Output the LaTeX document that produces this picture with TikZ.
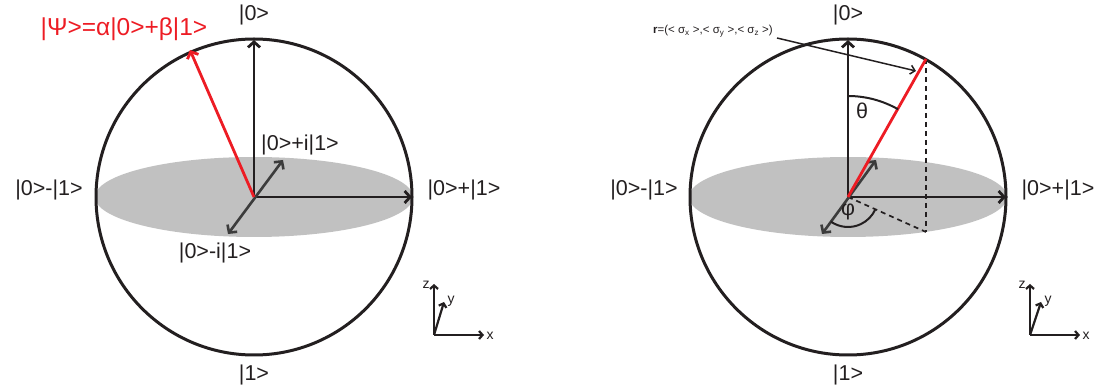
\documentclass[tikz,border=0pt]{standalone}
\usepackage{fontspec}
\setmainfont{Liberation Sans}
\usetikzlibrary{arrows.meta}
\definecolor{disk}{RGB}{193,193,193}
\definecolor{dgray}{RGB}{60,60,60}
\definecolor{qred}{RGB}{237,28,36}
\definecolor{ink}{RGB}{35,31,32}
\begin{document}
\begin{tikzpicture}[x=1pt,y=1pt,
  lbl/.style={font=\fontsize{21.5}{24}\selectfont, inner sep=0pt, text=ink},
  ax/.style={line width=2.8pt, draw=ink, -{Straight Barb[length=5.5pt,width=12pt]}},
  redax/.style={ax, draw=qred},
  dbl/.style={line width=2.6pt, draw=dgray, {Straight Barb[length=5.5pt,width=12pt]}-{Straight Barb[length=5.5pt,width=12pt]}},
  small/.style={line width=2.2pt, draw=ink, -{Straight Barb[length=3.5pt,width=8pt]}},
  tinylbl/.style={font=\fontsize{14}{16}\selectfont, inner sep=0pt, text=ink},
  sphere/.style={line width=3pt, draw=ink},
  dsh/.style={line width=1.7pt, draw=ink, dash pattern=on 5pt off 4pt}]
\useasboundingbox (0,0) rectangle (1109,391);

% ---------------- left sphere ----------------
\coordinate (L) at (254,194);
\fill[disk] (L) ellipse [x radius=159pt, y radius=40pt];
\draw[sphere] (L) circle [radius=158pt];
\coordinate (Ltop) at (254,351);
\coordinate (Lright) at (412,194);
\coordinate (Lpsi) at (190,341);
\coordinate (Lpi) at (283,231);
\coordinate (Lmi) at (228,157);
\draw[ax] (L) -- (Ltop);
\draw[ax] (L) -- (Lright);
\draw[dbl] (Lmi) -- (Lpi);
\draw[redax] (L) -- (Lpsi);

\node[lbl] (l0) at (254,376) {|0>};
\node[lbl] (l1) at (254,16) {|1>};
\node[lbl] (lm) at (49,201) {|0>-|1>};
\node[lbl] (lp) at (464,201) {|0>+|1>};
\node[lbl] (lpi) at (300,246) {|0>+i|1>};
\node[lbl] (lmi) at (215,138) {|0>-i|1>};
\node[lbl, text=qred, font=\fontsize{24.5}{28}\selectfont] (psi) at (124,362) {|Ψ>=α|0>+β|1>};

% axes icon left
\coordinate (La) at (434,56);
\coordinate (Laz) at (434,107);
\coordinate (Lax) at (484,56);
\coordinate (Lay) at (444,89);
\draw[small] (La) -- (Laz);
\draw[small] (La) -- (Lax);
\draw[small] (La) -- (Lay);
\node[tinylbl] (Lzl) at (426,106) {z};
\node[tinylbl] (Lyl) at (451,90) {y};
\node[tinylbl] (Lxl) at (490,55) {x};

% ---------------- right sphere ----------------
\coordinate (R) at (848,194);
\fill[disk] (R) ellipse [x radius=159pt, y radius=40pt];
\draw[sphere] (R) circle [radius=158pt];
\coordinate (Rtop) at (848,351);
\coordinate (Rright) at (1006,194);
\coordinate (Rr) at (926,332);
\coordinate (Rproj) at (926,159);
\coordinate (Rpi) at (876,231);
\coordinate (Rmi) at (822,157);
\draw[dsh] (Rr) -- (Rproj);
\draw[dsh] (R) -- (Rproj);
\draw[ax] (R) -- (Rtop);
\draw[ax] (R) -- (Rright);
\draw[dbl] (Rmi) -- (Rpi);
\draw[line width=2.8pt, draw=qred] (R) -- (Rr);
\draw[line width=2pt, draw=ink] ([shift={(90:101pt)}]R) arc [start angle=90, end angle=60.3, radius=101pt];
\draw[line width=2pt, draw=ink] ([shift={(235:30pt)}]R) arc [start angle=235, end angle=336, radius=30pt];
\node[lbl] (th) at (862,280) {θ};
\node[lbl] (ph) at (848,179) {φ};

\node[lbl] (r0) at (848,376) {|0>};
\node[lbl] (r1) at (848,16) {|1>};
\node[lbl] (rm) at (644,201) {|0>-|1>};
\node[lbl] (rp) at (1058,201) {|0>+|1>};

\node[inner sep=0pt, text=ink, font=\fontsize{11.5}{13}\selectfont] (rv) at (713,360)
  {\textbf{r}=(< σ\textsubscript{x} >,< σ\textsubscript{y} >,< σ\textsubscript{z} >)};
\coordinate (rvs) at (777,353);
\coordinate (rve) at (916,320);
\draw[line width=1.5pt, draw=ink, -{Straight Barb[length=4.5pt,width=9pt]}] (rvs) -- (rve);

% axes icon right
\coordinate (Ra) at (1030,56);
\coordinate (Raz) at (1030,107);
\coordinate (Rax) at (1080,56);
\coordinate (Ray) at (1041,89);
\draw[small] (Ra) -- (Raz);
\draw[small] (Ra) -- (Rax);
\draw[small] (Ra) -- (Ray);
\node[tinylbl] (Rzl) at (1022,106) {z};
\node[tinylbl] (Ryl) at (1048,90) {y};
\node[tinylbl] (Rxl) at (1086,55) {x};
\end{tikzpicture}
\end{document}
